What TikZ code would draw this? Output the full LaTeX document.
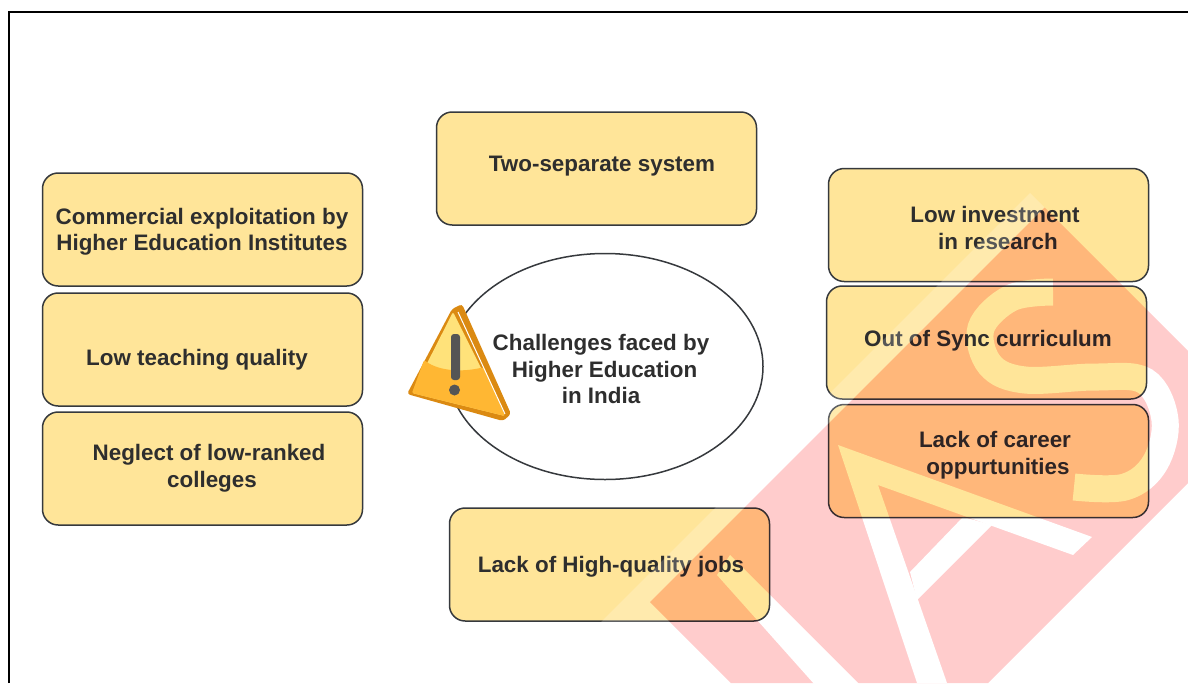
\documentclass[tikz,border=0pt]{standalone}
\usepackage{fontspec}
\setmainfont{Liberation Sans}
\setsansfont{Liberation Sans}
\usetikzlibrary{shapes.geometric, positioning}
\definecolor{boxfill}{HTML}{FFE599}
\definecolor{boxline}{HTML}{36393D}
\definecolor{inktext}{HTML}{2E2E2E}
\definecolor{markpink}{HTML}{FFCCCC}
\definecolor{signrim}{HTML}{DB8A12}
\definecolor{signlight}{HTML}{FFE27A}
\definecolor{signdeep}{HTML}{FFB733}
\definecolor{signmark}{HTML}{555555}
\tikzset{
	topic/.style={draw=boxline, fill=boxfill, rounded corners=5.5mm, line width=1.5pt, minimum width=320pt, minimum height=113pt},
	challenge/.style={draw=boxline, ellipse, line width=1.5pt, minimum width=316pt, minimum height=226pt},
	caption/.style={font=\fontsize{22.4}{26.5}\selectfont\bfseries, align=center, text=inktext, inner sep=0pt},
	markletter/.style={fill=white, draw=none}
}
\begin{document}
\begin{tikzpicture}[x=1pt, y=-1pt]
	\useasboundingbox (0,0) rectangle (1188,683);
	\fill[white] (0,0) rectangle (1188,683);
	\draw[line width=1.4pt] (9,683) -- (9,12) -- (1188,12);

	\node[challenge] (centre) at (605,366.5) {};
	\node[topic] (two) at (596.5,168.5) {};
	\node[topic] (commercial) at (202.5,229.5) {};
	\node[topic] (teaching) at (202.5,349.5) {};
	\node[topic] (neglect) at (202.5,468.5) {};
	\node[topic] (invest) at (988.5,225) {};
	\node[topic] (sync) at (986.5,342.5) {};
	\node[topic] (career) at (988.5,461) {};
	\node[topic] (jobs) at (609.5,564.5) {};

	% warning sign
	\fill[signrim, rounded corners=3pt] (452,309) -- (462,304) -- (511,414) -- (503,421) -- (407,394) -- cycle;
	\fill[signlight, rounded corners=2pt] (453,312) -- (505,416) -- (412,393) -- cycle;
	\fill[signdeep, rounded corners=2pt] (412,393) -- (424,360) .. controls (440,372) and (465,372) .. (484,367) -- (505,416) -- cycle;
	\draw[white, line width=1pt] (458,312) -- (505,414);
	\fill[signmark, rounded corners=3pt] (451,334) rectangle (460,380);
	\fill[signmark] (454.5,390) circle (5.5pt);

	% texts
	\node[caption] (centretext) at (601,369) {Challenges faced by\\ \hspace*{7pt}Higher Education\\ in India};
	\node[caption] (twotext) at (602,166) {Two-separate system};
	\node[caption] (commercialtext) at (202,232) {Commercial exploitation by\\ Higher Education Institutes};
	\node[caption] (teachingtext) at (197,360) {Low teaching quality};
	\node[caption] (neglecttext) at (209,468) {Neglect of low-ranked\\ \hspace*{6pt}colleges};
	\node[caption] (investtext) at (995,228) {Low investment\\ \hspace*{6pt}in research};
	\node[caption] (synctext) at (988,341) {Out of Sync curriculum};
	\node[caption] (careertext) at (995,455) {Lack of career\\ \hspace*{6pt}oppurtunities};
	\node[caption] (jobstext) at (611,567) {Lack of High-quality jobs};

	% watermark
	\fill[white, opacity=0.2] (600,623) -- (1030,193) -- (1044.5,207.5) -- (650,602) -- (731,683) -- (660,683) -- cycle;
	\begin{scope}[blend mode=multiply, transparency group]
		\clip (0,0) rectangle (1188,683);
		\fill[markpink] (650,602) -- (1044.5,207.5) -- (1200,363) -- (1200,471) -- (988,683) -- (731,683) -- cycle;
		% I
		\fill[markletter] (730,555) -- (860,685) -- (815,685) -- (717,575) -- cycle;
		% A
		\fill[markletter] (838,445) -- (1092,537) -- (1073,555) -- (878,485) -- (947,683) -- (917,683) -- cycle;
		\fill[markletter] (910,572) -- (963,517) -- (992,525) -- (917,600) -- cycle;
		% S
		\draw[white, line width=27pt] plot[smooth, tension=0.6] coordinates {(1053,292) (1011,298) (981,328) (990,365) (1025,380) (1095,377) (1145,381) (1165,420) (1155,463) (1125,487) (1074,487)};
	\end{scope}
\end{tikzpicture}
\end{document}
